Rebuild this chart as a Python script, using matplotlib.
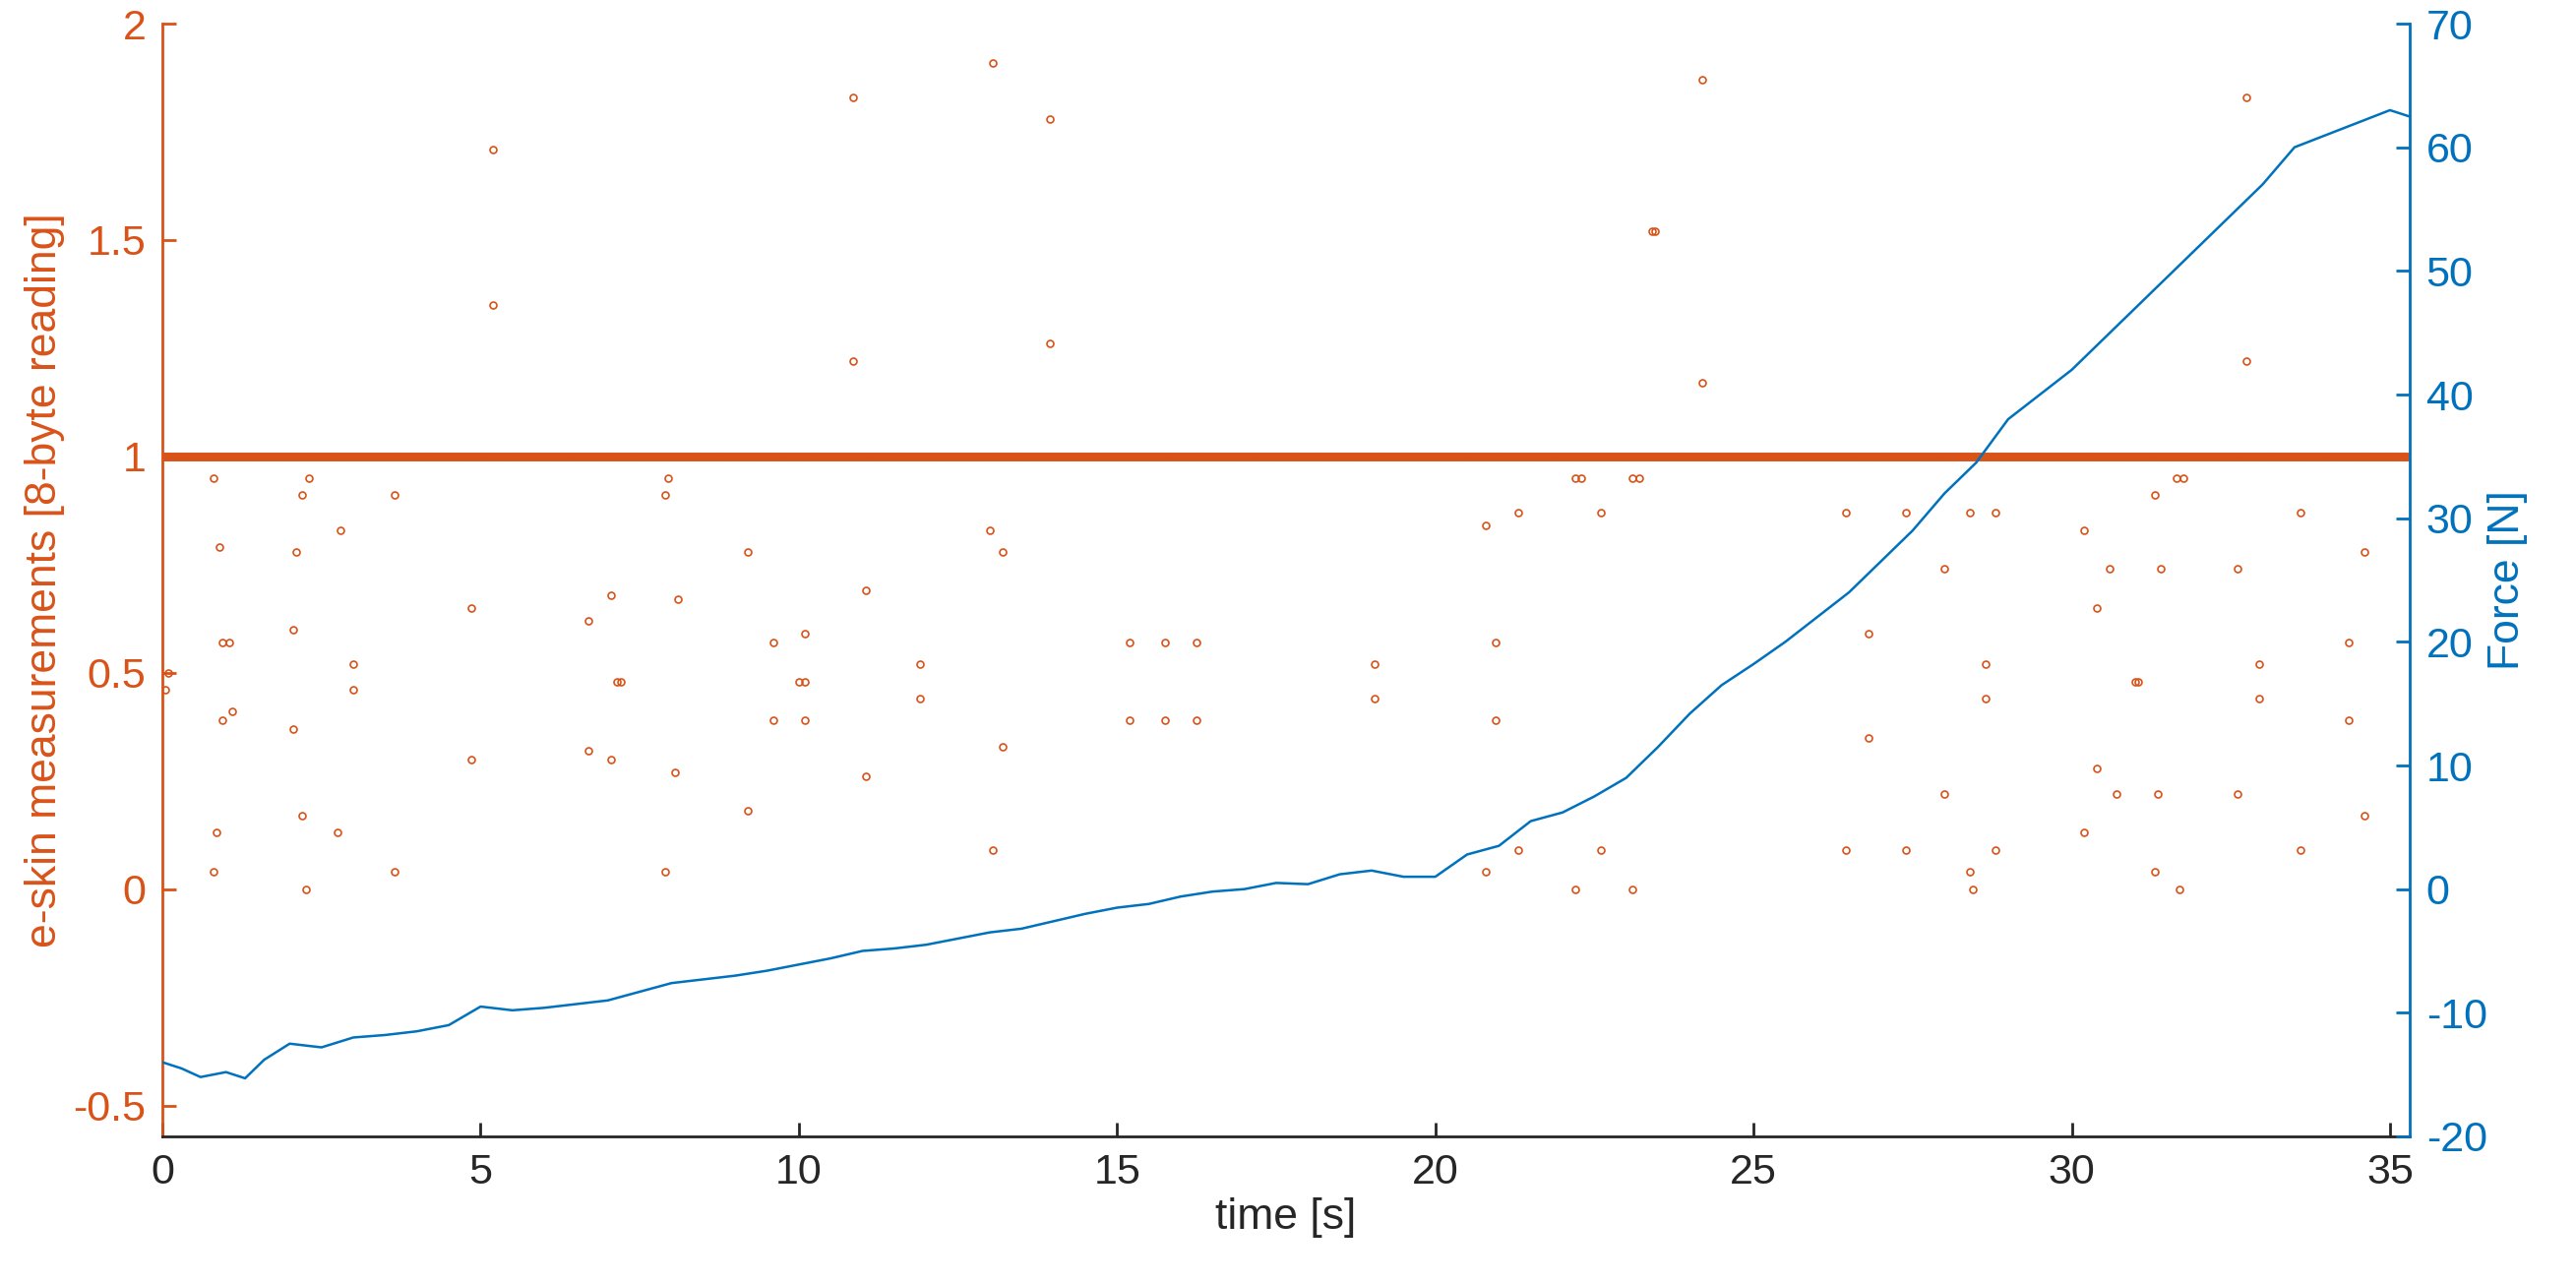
import numpy as np
import matplotlib.pyplot as plt

plt.rcParams['font.family'] = ['Liberation Sans', 'DejaVu Sans']
plt.rcParams['axes.unicode_minus'] = False

orange = '#D95319'
blue = '#0072BD'
dark = '#262626'

# e-skin readings that differ from the baseline value of 1
out_t = [0.05, 0.1, 0.8, 0.9, 0.85, 0.8, 0.95, 1.05, 0.95, 1.1,
         2.05, 2.05, 2.1, 2.2, 2.3, 2.2, 2.25, 2.8, 2.75, 3.0, 3.0, 3.65, 3.65,
         4.85, 4.85, 5.2, 5.2,
         6.7, 6.7, 7.05, 7.05, 7.15, 7.2, 7.9, 7.95, 7.9, 8.05, 8.1,
         9.2, 9.2, 9.6, 9.6, 10.0, 10.1, 10.1, 10.1, 10.85, 10.85, 11.05, 11.05, 11.9, 11.9,
         13.05, 13.0, 13.2, 13.2, 13.05, 13.95, 13.95,
         15.2, 15.2, 15.75, 15.75, 16.25, 16.25,
         19.05, 19.05,
         20.8, 20.8, 20.95, 20.95, 21.3, 21.3, 22.2, 22.3, 22.2, 22.6, 22.6,
         23.1, 23.2, 23.1, 23.4, 23.45, 24.2, 24.2,
         26.45, 26.45, 26.8, 26.8, 27.4, 27.4, 28.0, 28.0, 28.4, 28.4, 28.45,
         28.65, 28.65, 28.8, 28.8,
         30.2, 30.2, 30.4, 30.4, 30.6, 30.7, 31.0, 31.05, 31.3, 31.3, 31.4, 31.35,
         31.65, 31.75, 31.7, 32.6, 32.6, 32.75, 32.75, 32.95, 32.95, 33.6, 33.6,
         34.35, 34.35, 34.6, 34.6]
out_v = [0.46, 0.5, 0.95, 0.79, 0.13, 0.04, 0.57, 0.57, 0.39, 0.41,
         0.6, 0.37, 0.78, 0.91, 0.95, 0.17, 0.0, 0.83, 0.13, 0.52, 0.46, 0.91, 0.04,
         0.65, 0.3, 1.71, 1.35,
         0.62, 0.32, 0.68, 0.3, 0.48, 0.48, 0.91, 0.95, 0.04, 0.27, 0.67,
         0.78, 0.18, 0.57, 0.39, 0.48, 0.59, 0.48, 0.39, 1.83, 1.22, 0.69, 0.26, 0.52, 0.44,
         1.91, 0.83, 0.78, 0.33, 0.09, 1.78, 1.26,
         0.57, 0.39, 0.57, 0.39, 0.57, 0.39,
         0.52, 0.44,
         0.84, 0.04, 0.57, 0.39, 0.87, 0.09, 0.95, 0.95, 0.0, 0.87, 0.09,
         0.95, 0.95, 0.0, 1.52, 1.52, 1.87, 1.17,
         0.87, 0.09, 0.59, 0.35, 0.87, 0.09, 0.74, 0.22, 0.87, 0.04, 0.0,
         0.52, 0.44, 0.87, 0.09,
         0.83, 0.13, 0.65, 0.28, 0.74, 0.22, 0.48, 0.48, 0.91, 0.04, 0.74, 0.22,
         0.95, 0.95, 0.0, 0.74, 0.22, 1.83, 1.22, 0.52, 0.44, 0.87, 0.09,
         0.57, 0.39, 0.78, 0.17]

# sampled baseline readings (value 1)
base_t = np.arange(0, 35.3, 0.02)
base_v = np.ones_like(base_t)

force_t = [0, 0.3, 0.6, 1.0, 1.3, 1.6, 2.0, 2.5, 3.0, 3.5, 4.0, 4.5, 5.0, 5.5, 6.0, 6.5, 7.0,
           7.5, 8.0, 8.5, 9.0, 9.5, 10.0, 10.5, 11.0, 11.5, 12.0, 12.5, 13.0, 13.5, 14.0,
           14.5, 15.0, 15.5, 16.0, 16.5, 17.0, 17.5, 18.0, 18.5, 19.0, 19.5, 20.0, 20.5,
           21.0, 21.5, 22.0, 22.5, 23.0, 23.5, 24.0, 24.5, 25.0, 25.5, 26.0, 26.5, 27.0,
           27.5, 28.0, 28.5, 29.0, 29.5, 30.0, 30.5, 31.0, 31.5, 32.0, 32.5, 33.0, 33.5,
           34.0, 34.5, 35.0, 35.3]
force_v = [-14, -14.5, -15.2, -14.8, -15.3, -13.8, -12.5, -12.8, -12, -11.8, -11.5, -11, -9.5,
           -9.8, -9.6, -9.3, -9, -8.3, -7.6, -7.3, -7, -6.6, -6.1, -5.6, -5, -4.8, -4.5,
           -4, -3.5, -3.2, -2.6, -2, -1.5, -1.2, -0.6, -0.2, 0, 0.5, 0.4, 1.2, 1.5, 1.0,
           1.0, 2.8, 3.5, 5.5, 6.2, 7.5, 9, 11.5, 14.2, 16.5, 18.2, 20, 22, 24, 26.5, 29,
           32, 34.5, 38, 40, 42, 44.5, 47, 49.5, 52, 54.5, 57, 60, 61, 62, 63, 62.5]

fig, ax = plt.subplots(figsize=(26.18, 13.04), dpi=100)
fig.subplots_adjust(left=165 / 2618, right=2449 / 2618, top=1 - 24 / 1304, bottom=1 - 1155 / 1304)

ax.plot(base_t, base_v, 'o', ms=5, mfc='none', mec=orange, mew=1.2)
ax.plot(out_t, out_v, 'o', ms=5, mfc='none', mec=orange, mew=1.2)
ax.set_xlim(0, 35.31)
ax.set_ylim(-20 / 35, 2)
ax.set_yticks([-0.5, 0, 0.5, 1, 1.5, 2])
ax.set_yticklabels(['-0.5', '0', '0.5', '1', '1.5', '2'])
ax.set_xlabel('time [s]', fontsize=32, color=dark)
ax.set_ylabel('e-skin measurements [8-byte reading]', fontsize=32, color=orange, labelpad=6)

ax2 = ax.twinx()
ax2.plot(force_t, force_v, color=blue, lw=1.8)
ax2.set_ylim(-20, 70)
ax2.set_yticks(range(-20, 71, 10))
ax2.set_ylabel('Force [N]', fontsize=32, color=blue, labelpad=0)

for a in (ax, ax2):
    for s in a.spines.values():
        s.set_linewidth(2)
    a.spines['top'].set_visible(False)
    a.tick_params(labelsize=31, width=2, length=10, direction='in', pad=12)
ax2.spines['left'].set_visible(False)
ax2.spines['bottom'].set_visible(False)
ax.spines['right'].set_visible(False)
ax.spines['left'].set_color(orange)
ax.spines['bottom'].set_color(dark)
ax2.spines['right'].set_color(blue)
ax.tick_params(axis='y', colors=orange)
ax.tick_params(axis='x', colors=dark)
ax2.tick_params(axis='y', colors=blue)

fig.savefig('out.png', dpi=100)
